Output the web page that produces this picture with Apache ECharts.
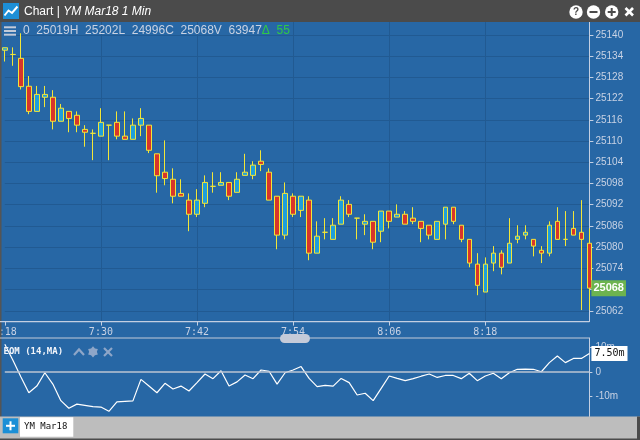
<!DOCTYPE html>
<html>
<head>
<meta charset="utf-8">
<script src="https://cdn.jsdelivr.net/npm/echarts@6/dist/echarts.min.js"></script>
<style>
html,body{margin:0;padding:0;background:#2767a5;}
#c{width:640px;height:440px;}
</style>
</head>
<body>
<div id="c"></div>
<script>
// ---- data ----
const times = [
  "7:18","7:19","7:20","7:21","7:22","7:23","7:24","7:25","7:26","7:27","7:28","7:29",
  "7:30","7:31","7:32","7:33","7:34","7:35","7:36","7:37","7:38","7:39","7:40","7:41",
  "7:42","7:43","7:44","7:45","7:46","7:47","7:48","7:49","7:50","7:51","7:52","7:53",
  "7:54","7:55","7:56","7:57","7:58","7:59","8:00","8:01","8:02","8:03","8:04","8:05",
  "8:06","8:07","8:08","8:09","8:10","8:11","8:12","8:13","8:14","8:15","8:16","8:17",
  "8:18","8:19","8:20","8:21","8:22","8:23","8:24","8:25","8:26","8:27","8:28","8:29",
  "8:30","8:31"
];
// [open, close, low, high]
const ohlc = [
  [25135.7,25136.4,25132.5,25136.4],[25134.5,25134.5,25131.3,25136.5],[25133.4,25125.4,25124.6,25140.5],
  [25125.5,25118.4,25117.6,25128.4],[25118.4,25123.2,25118.4,25125.6],[25122.4,25123.2,25119.6,25125.6],
  [25122.4,25115.6,25113.3,25124.4],[25115.6,25119.3,25115.6,25120.5],[25118.4,25116.4,25112.5,25118.4],
  [25117.3,25114.5,25112.5,25118.4],[25113.3,25112.5,25108.4,25114.5],[25112.2,25112.2,25104.6,25113.3],
  [25111.4,25115.3,25111.4,25119.3],[25114.5,25114.5,25104.6,25114.5],[25115.3,25111.4,25110.5,25118.4],
  [25111.4,25110.5,25110.5,25118.4],[25110.5,25114.5,25110.5,25116.4],[25114.5,25116.4,25111.4,25119.3],
  [25114.5,25107.4,25106.6,25114.5],[25106.4,25100.2,25095.4,25106.4],[25101.2,25099.4,25097.5,25110.2],
  [25099.2,25094.4,25092.4,25102.3],[25095.2,25094.4,25094.4,25099.2],[25093.3,25089.3,25084.5,25095.2],
  [25089.3,25093.3,25088.5,25096.4],[25092.4,25098.3,25091.3,25100.3],[25097.2,25097.2,25095.4,25101.2],
  [25097.5,25098.3,25097.5,25101.2],[25098.3,25094.4,25093.3,25098.3],[25095.5,25099.2,25095.5,25101.2],
  [25100.3,25101.2,25100.3,25106.4],[25100.3,25103.2,25099.2,25104.3],[25104.3,25103.4,25101.5,25107.4],
  [25101.2,25093.3,25093.3,25102.3],[25094.4,25083.4,25079.4,25094.4],[25083.4,25095.2,25082.2,25098.3],
  [25094.4,25089.3,25088.5,25095.2],[25090.4,25094.4,25088.5,25094.4],[25093.3,25078.3,25076.3,25094.4],
  [25078.3,25083.1,25078.3,25087.3],[25084.2,25084.2,25082.2,25088.2],[25082.2,25086.2,25082.2,25088.2],
  [25086.5,25093.3,25086.5,25094.4],[25092.1,25089.3,25088.5,25093.3],[25088.2,25088.2,25082.2,25088.2],
  [25086.5,25087.3,25083.4,25089.3],[25087.3,25081.4,25079.4,25087.3],[25084.5,25090.2,25081.4,25090.2],
  [25090.2,25087.3,25085.3,25090.2],[25088.5,25089.3,25088.5,25092.1],[25089.3,25086.5,25086.5,25090.2],
  [25088.2,25087.3,25086.5,25091.3],[25087.3,25085.3,25081.4,25087.3],[25086.2,25083.4,25082.2,25086.2],
  [25082.2,25087.3,25082.2,25087.3],[25086.5,25091.3,25082.2,25091.3],[25091.3,25087.3,25086.5,25091.3],
  [25086.2,25082.2,25081.4,25086.2],[25082.2,25075.5,25074.3,25082.2],[25075.2,25069.2,25066.4,25078.3],
  [25067.3,25075.2,25067.3,25077.1],[25075.5,25078.3,25073.2,25080.3],[25078.3,25074.3,25072.3,25079.1],
  [25075.5,25081.1,25075.5,25088.2],[25082.2,25083.1,25081.1,25086.2],[25083.4,25084.2,25082.2,25086.2],
  [25082.2,25080.3,25077.4,25082.2],[25079.1,25078.3,25075.5,25080.3],[25078.3,25086.2,25077.4,25087.3],
  [25087.3,25082.2,25082.2,25091.3],[25082.2,25082.2,25080.3,25090.2],[25085.3,25083.4,25083.4,25090.2],
  [25084.2,25082.2,25062.2,25093.3],[25081.1,25068.4,25062.2,25085.3]
];
// EOM (14, MA) in "m" units
const eom = [
  11.2,4.9,-1.9,-8.4,-5.7,-0.3,-4.9,-11.6,-14.7,-13.0,-13.5,-14.0,
  -14.2,-15.9,-12.1,-11.9,-11.7,-3.0,-5.7,-8.4,-4.6,-6.9,-5.7,-7.7,
  -4.3,-0.8,-2.7,0.5,-5.7,-4.0,-1.2,-2.7,0.8,0.3,-4.9,-0.3,
  0.8,2.2,-2.6,-5.9,-5.4,-5.7,-2.6,-4.3,-9.3,-8.6,-11.6,-6.6,
  -1.6,-2.6,-3.5,-2.7,-1.7,-0.8,-2.2,-1.4,-1.4,-2.7,-0.5,-3.5,
  -1.6,-0.5,-2.7,-0.3,1.1,1.2,1.1,0.1,3.8,6.5,3.8,5.5,
  5.5,7.5
];
const priceTicks = [25062,25068,25074,25080,25086,25092,25098,25104,25110,25116,25122,25128,25134,25140];
const eomTicks = [-10, 0, 10];
const headerValues = "0  25019H  25202L  24996C  25068V  63947";
const headerChange = "\u0394  55";

// ---- style ----
const BG = '#2767a5', GRIDC = '#215a92', AXC = '#c3cfe2', LBL = '#c8d2e4';
const lastClose = ohlc[ohlc.length - 1][1];
const lastEom = eom[eom.length - 1];
const labelInt = (i) => i % 12 === 0 && i < 72;
const splitInt = (i) => i % 12 === 0 && i > 0 && i < 72;

const G = [];
function rect(x, y, w, h, fill, r) { G.push({type:'rect', shape:{x, y, width:w, height:h, r:r||0}, style:{fill}, z:100, silent:true}); }
function line(x1, y1, x2, y2, stroke, w) { G.push({type:'line', shape:{x1, y1, x2, y2}, style:{stroke, lineWidth:w}, z:101, silent:true}); }
function text(x, y, t, style) { G.push({type:'text', x, y, style:Object.assign({text:t, verticalAlign:'middle'}, style), z:102, silent:true}); }

// title bar
rect(0, 0, 640, 22, '#4b4b4b');
rect(3, 3, 16, 16, '#1d8fd6');
G.push({type:'polyline', shape:{points:[[4.5,15.5],[8.5,10.5],[12,13],[17.5,6.5]]}, style:{stroke:'#fff', lineWidth:2, fill:null}, z:102, silent:true});
text(24, 12, '{a|Chart |}{b| YM Mar18 1 Min}', {rich:{
  a:{fill:'#ffffff', fontSize:12, fontFamily:'Liberation Sans'},
  b:{fill:'#ffffff', fontSize:12, fontFamily:'Liberation Sans', fontStyle:'italic'}}});
G.push({type:'circle', shape:{cx:576, cy:12, r:6.7}, style:{fill:'#fff'}, z:101, silent:true});
text(576, 12.5, '?', {fill:'#4b4b4b', font:'bold 10px Liberation Sans', align:'center'});
G.push({type:'circle', shape:{cx:593.5, cy:12, r:6.7}, style:{fill:'#fff'}, z:101, silent:true});
line(589.5, 12, 597.5, 12, '#4b4b4b', 2);
G.push({type:'circle', shape:{cx:611.7, cy:12, r:6.7}, style:{fill:'#fff'}, z:101, silent:true});
line(607.7, 12, 615.7, 12, '#4b4b4b', 2);
line(611.7, 8, 611.7, 16, '#4b4b4b', 2);
line(625.5, 8, 633, 15.5, '#fff', 2.6);
line(633, 8, 625.5, 15.5, '#fff', 2.6);

// left frame
rect(0, 22, 1.5, 395, '#555555');

// header row
line(4, 27.3, 16, 27.3, '#c2cad8', 2);
line(4, 31, 16, 31, '#c2cad8', 2);
line(4, 34.7, 16, 34.7, '#c2cad8', 2);
text(23, 30.5, '{a|' + headerValues + '}{g|' + headerChange + '}', {rich:{
  a:{fill:'#c9d2e2', fontSize:12, fontFamily:'Liberation Sans'},
  g:{fill:'#2fc847', fontSize:12, fontFamily:'Liberation Sans'}}});

// panel borders
line(0, 321.6, 589.4, 321.6, AXC, 1.2);
line(0, 338, 589.4, 338, '#c3cbd8', 1);
rect(280, 334, 30, 9, '#c5cbd9', 4.5);

// indicator title
text(3.5, 352, 'EOM (14,MA)', {fill:'#f2f5fa', font:'bold 9px DejaVu Sans Mono'});
G.push({type:'polyline', shape:{points:[[74,355],[79,349.5],[84,355]]}, style:{stroke:'#8ea6c8', lineWidth:2.2, fill:null}, z:102, silent:true});
(function(){ const pts=[]; for(let k=0;k<12;k++){ const a=-Math.PI/2 + k*Math.PI/6; const r=k%2===0?5.6:3.9; pts.push([93+r*Math.cos(a), 351.8+r*Math.sin(a)]);} 
  G.push({type:'polygon', shape:{points:pts}, style:{fill:'#8ea6c8'}, z:102, silent:true}); })();
line(104, 348, 112, 356, '#8ea6c8', 2.2);
line(112, 348, 104, 356, '#8ea6c8', 2.2);

// bottom bar
rect(0, 416.5, 640, 23.5, '#bdbdbd');
rect(637, 416.5, 3, 23.5, '#4b4b4b');
rect(0, 438.5, 640, 1.5, '#4b4b4b');
rect(2.7, 418.3, 15.6, 15, '#1c8fd6');
line(6, 425.8, 15, 425.8, '#fff', 2);
line(10.5, 421.3, 10.5, 430.3, '#fff', 2);
rect(20, 417.3, 53.3, 19.4, '#ffffff');
text(24, 427, 'YM Mar18', {fill:'#111', font:'9px DejaVu Sans Mono'});

const chart = echarts.init(document.getElementById('c'));
chart.setOption({
  backgroundColor: BG,
  animation: false,
  grid: [
    {left: 4.8, width: 584.6, top: 22, height: 299.6, outerBoundsMode: 'none', containLabel: false},
    {left: 4.8, width: 584.6, top: 338, height: 78.5, outerBoundsMode: 'none', containLabel: false}
  ],
  xAxis: [
    {type:'category', data: times, gridIndex:0, boundaryGap:false,
     axisLine:{show:false},
     axisTick:{show:true, interval:labelInt, length:4, lineStyle:{color:AXC}},
     axisLabel:{interval:labelInt, color:LBL, fontFamily:'DejaVu Sans Mono', fontSize:10, margin:6},
     splitLine:{show:true, interval:splitInt, lineStyle:{color:GRIDC, width:1}}},
    {type:'category', data: times, gridIndex:1, boundaryGap:false, show:false}
  ],
  yAxis: [
    {type:'value', gridIndex:0, position:'right', min:25058.94, max:25143.68,
     axisLine:{show:true, lineStyle:{color:AXC, width:1}},
     axisTick:{show:true, length:4, customValues:priceTicks, lineStyle:{color:AXC}},
     axisLabel:{customValues:priceTicks, color:LBL, fontSize:10, fontFamily:'Liberation Sans', margin:6,
       formatter:(v) => String(v)},
     splitLine:{show:true, lineStyle:{color:GRIDC, width:1}}},
    {type:'value', gridIndex:1, position:'right', min:-18.02, max:13.77,
     axisLine:{show:true, lineStyle:{color:AXC, width:1}},
     axisTick:{show:true, length:3, customValues:eomTicks, lineStyle:{color:AXC}},
     axisLabel:{customValues:eomTicks, color:LBL, fontSize:10, fontFamily:'Liberation Sans', margin:6,
       formatter:(v) => v === 0 ? '0' : v + 'm'},
     splitLine:{show:false}}
  ],
  series: [
    {type:'candlestick', xAxisIndex:0, yAxisIndex:0, data:ohlc, barWidth:5, clip:false,
     itemStyle:{color:'#1e9fdc', color0:'#d8352b', borderColor:'#f2e638', borderColor0:'#f2e638', borderWidth:1},
     markLine:{silent:true, symbol:['none','none'],
       lineStyle:{color:'rgba(0,0,0,0)', width:0},
       label:{show:true, position:'end', distance:2, formatter:String(Math.round(lastClose)),
         backgroundColor:'#6db34f', color:'#ffffff', fontSize:11, fontWeight:'bold', fontFamily:'Liberation Sans', padding:[3,2,2,2]},
       data:[{yAxis:lastClose}]}},
    {type:'line', xAxisIndex:1, yAxisIndex:1, data:eom, symbol:'none', lineStyle:{color:'#ffffff', width:1.2},
     markLine:{silent:true, symbol:['none','none'],
       data:[
         {yAxis:0, lineStyle:{color:'#bcc5d3', width:1.6, type:'solid'}, label:{show:false}},
         {yAxis:lastEom, lineStyle:{color:'rgba(0,0,0,0)', width:0},
          label:{show:true, position:'end', distance:2, formatter:lastEom.toFixed(2) + 'm',
            backgroundColor:'#ffffff', color:'#111111', fontSize:10, fontFamily:'DejaVu Sans Mono', padding:[3,3,2,3]}}
       ]}}
  ],
  graphic: {elements: G}
});
</script>
</body>
</html>
